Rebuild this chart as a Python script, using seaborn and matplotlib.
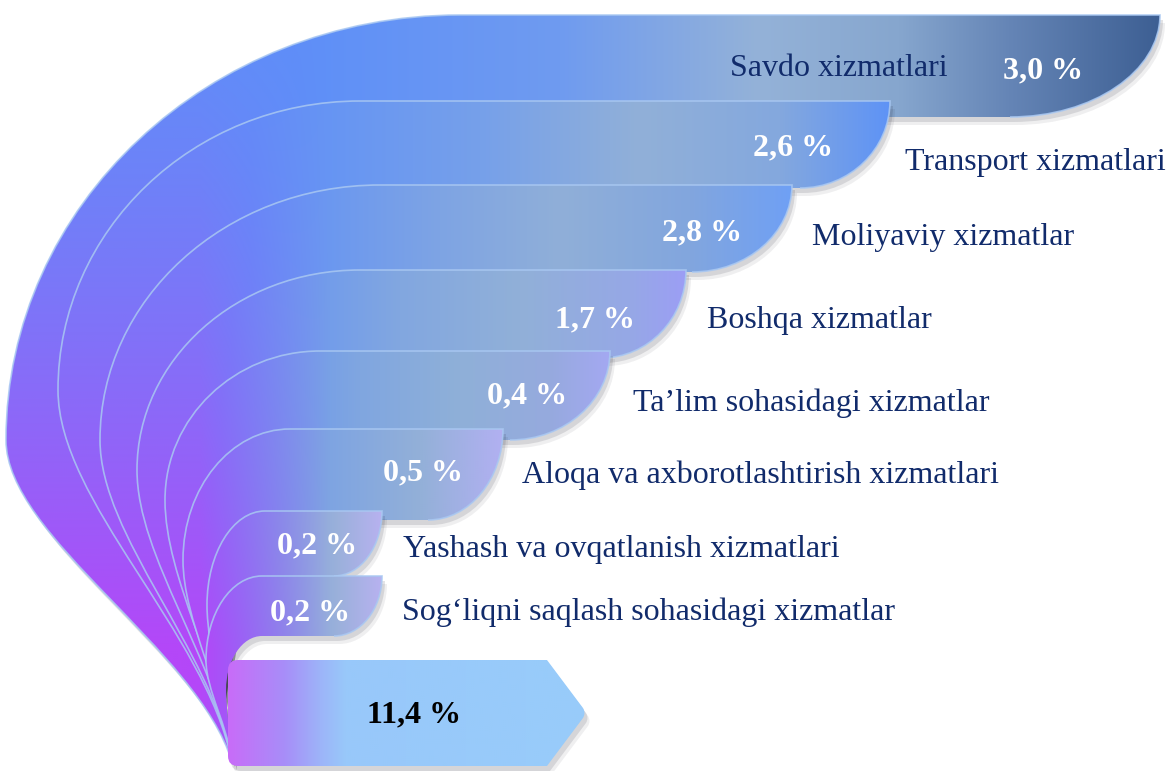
import numpy as np
import matplotlib
matplotlib.use("Agg")
import matplotlib.pyplot as plt
import matplotlib.transforms as mtransforms
from matplotlib.path import Path
from matplotlib.patches import PathPatch
from matplotlib.colors import to_rgb
import seaborn as sns

# Data
categories = [
    "Savdo xizmatlari",
    "Transport xizmatlari",
    "Moliyaviy xizmatlar",
    "Boshqa xizmatlar",
    "Ta\u2019lim sohasidagi xizmatlar",
    "Aloqa va axborotlashtirish xizmatlari",
    "Yashash va ovqatlanish xizmatlari",
    "Sog\u2018liqni saqlash sohasidagi xizmatlar",
]
values = [3.0, 2.6, 2.8, 1.7, 0.4, 0.5, 0.2, 0.2]
total_value = 11.4

# Layout of the curved bands (pixel space, y downwards)
band_top = [15, 101, 185, 270, 351, 429, 511, 576]
band_bottom = [117, 188, 272, 358, 440, 520, 576, 636]
band_right = [1160, 890, 792, 686, 610, 503, 382, 382]
end_rx = [150, 90, 100, 85, 100, 75, 48, 48]
flat_start = [460, 360, 380, 360, 320, 290, 265, 262]
left_x = [6, 58, 100, 137, 165, 183, 207, 206]
left_y = [440, 390, 440, 470, 500, 560, 605, 660]
conv = (232, 762)
inner_edge = dict(top=636, hx=262, lx=226, ly=690)

val_x = [1003, 753, 662, 555, 487, 383, 277, 270]
val_y = [78, 155, 240, 327, 403, 480, 553, 620]
cat_x = [730, 905, 812, 707, 633, 522, 403, 402]
cat_y = [76, 170, 245, 328, 411, 483, 557, 620]

band_grad = [
    [(300, "#5E8FF8"), (560, "#6F9BF0"), (760, "#94B2D8"), (900, "#86A6CE"), (1010, "#6585B6"), (1160, "#3D5F93")],
    [(250, "#5E8FF8"), (480, "#76A0EA"), (640, "#91B0D8"), (780, "#84A8DE"), (890, "#5E93F6")],
    [(250, "#5E8FF8"), (440, "#7EA4E4"), (560, "#90AFD8"), (690, "#82A6DE"), (792, "#6FA0F5")],
    [(230, "#5E8FF8"), (400, "#82A7E0"), (520, "#91B0D8"), (630, "#96A8E6"), (686, "#9C9EF5")],
    [(220, "#5E8FF8"), (360, "#80A6E0"), (460, "#8FB0D8"), (550, "#96AADE"), (610, "#A4A8F2")],
    [(210, "#5E8FF8"), (320, "#7CA3E3"), (420, "#93B0D8"), (503, "#B2B0F2")],
    [(210, "#5E8FF8"), (280, "#7BA2E4"), (335, "#99B0DA"), (382, "#B8B2F0")],
    [(210, "#5E8FF8"), (280, "#7BA2E4"), (335, "#99B0DA"), (382, "#B8B2F0")],
]
box_grad = [(228, "#C86CF8"), (285, "#A78EF8"), (320, "#9DB4F9"), (345, "#98C8FA"), (586, "#98CCFA")]
purple = np.array(to_rgb("#B447F8"))

K = 0.5523
W, H = 1170, 771

sns.set_theme(style="white")
plt.rcParams["font.family"] = ["Liberation Serif", "DejaVu Serif"]

fig = plt.figure(figsize=(11.7, 7.71), dpi=100)
ax = fig.add_axes([0, 0, 1, 1])

xs = np.linspace(0, W, 586)
ys = np.linspace(0, H, 386)
X, Y = np.meshgrid(xs, ys)
pw = np.clip((Y + 50) / 700, 0, 1) ** 1.5 * np.clip((330 - X) / 130, 0, 1)


def gradient(stops, tint=True):
    px = [s[0] for s in stops]
    cols = np.array([to_rgb(s[1]) for s in stops])
    img = np.zeros(X.shape + (3,))
    for c in range(3):
        img[..., c] = np.interp(X, px, cols[:, c])
    if tint:
        img = img * (1 - pw[..., None]) + purple * pw[..., None]
    return img


def left_part(top, hx, lx, ly):
    # from the common tip up to where the flat top begins
    cx, cy = conv
    P2 = (lx + 0.85 * (cx - lx), ly + 0.65 * (cy - ly))
    P1 = (lx, ly + 0.3 * (cy - ly))
    U1 = (lx, ly - K * (ly - top))
    U2 = (hx - K * (hx - lx), top)
    return [conv, P2, P1, (lx, ly), U1, U2, (hx, top)]


def outer_curve(i):
    pts = left_part(band_top[i], flat_start[i], left_x[i], left_y[i])
    xr, ty, yb, rx = band_right[i], band_top[i], band_bottom[i], end_rx[i]
    ry = yb - ty
    pts += [(xr, ty), (xr, ty + K * ry), (xr - rx + K * rx, yb), (xr - rx, yb)]
    codes = [Path.MOVETO] + [Path.CURVE4] * 6 + [Path.LINETO] + [Path.CURVE4] * 3
    return pts, codes


def band_path(i):
    pts, codes = outer_curve(i)
    if i + 1 < len(band_top):
        # close through points that the inner bands and the box cover
        pts = pts + [(flat_start[i + 1], band_bottom[i]), (235, 620), (222, 700), (230, 755), pts[0]]
        codes = codes + [Path.LINETO] * 4 + [Path.CLOSEPOLY]
    else:
        back = left_part(inner_edge["top"], inner_edge["hx"], inner_edge["lx"], inner_edge["ly"])[::-1]
        pts = pts + [back[0]] + back[1:] + [pts[0]]
        codes = codes + [Path.LINETO] + [Path.CURVE4] * 6 + [Path.CLOSEPOLY]
    return Path(pts, codes)


def fill_path(path, img, z, shadow=True):
    if shadow:
        for (ox, oy, a) in [(5, 8, 0.07), (3, 5, 0.12)]:
            tr = mtransforms.Affine2D().translate(ox, oy) + ax.transData
            ax.add_patch(PathPatch(path, fc="#202030", ec="none", alpha=a, transform=tr, zorder=z))
    patch = PathPatch(path, fc="none", ec="none", zorder=z + 0.5)
    ax.add_patch(patch)
    im = ax.imshow(img, extent=(0, W, H, 0), origin="upper", interpolation="bilinear",
                   aspect="auto", zorder=z + 0.5)
    im.set_clip_path(patch)


for i in range(len(categories)):
    z = 2 + i * 3
    fill_path(band_path(i), gradient(band_grad[i]), z)
    pts, codes = outer_curve(i)
    ax.add_patch(PathPatch(Path(pts, codes), fc="none", ec="#A9C8F2", lw=1.2,
                           alpha=0.85, zorder=z + 0.8))

# total box with a chevron on the right
bl, bt, br, bb, tipx, r = 228, 660, 547, 766, 586, 10
tipy = (bt + bb) / 2
box_pts = [(bl + r, bt), (br, bt), (tipx - 3, tipy - 5), (tipx, tipy), (tipx - 3, tipy + 5),
           (br, bb), (bl + r, bb), (bl, bb), (bl, bb - r), (bl, bt + r), (bl, bt), (bl + r, bt),
           (bl + r, bt)]
box_codes = [Path.MOVETO, Path.LINETO, Path.LINETO, Path.CURVE3, Path.CURVE3,
             Path.LINETO, Path.LINETO, Path.CURVE3, Path.CURVE3, Path.LINETO,
             Path.CURVE3, Path.CURVE3, Path.CLOSEPOLY]
fill_path(Path(box_pts, box_codes), gradient(box_grad, tint=False), 40)

# labels
for i, (cat, v) in enumerate(zip(categories, values)):
    label = f"{v:.1f}".replace(".", ",") + " %"
    ax.text(val_x[i], val_y[i], label, ha="left", va="baseline", fontsize=23,
            fontweight="bold", color="white", zorder=50)
    ax.text(cat_x[i], cat_y[i], cat, ha="left", va="baseline", fontsize=23,
            color="#112B6B", zorder=50)

ax.text(367, 722, f"{total_value:.1f}".replace(".", ",") + " %", ha="left", va="baseline",
        fontsize=23, fontweight="bold", color="black", zorder=50)

ax.set_xlim(0, W)
ax.set_ylim(H, 0)
ax.axis("off")
fig.savefig("out.png", dpi=100, facecolor="white")
